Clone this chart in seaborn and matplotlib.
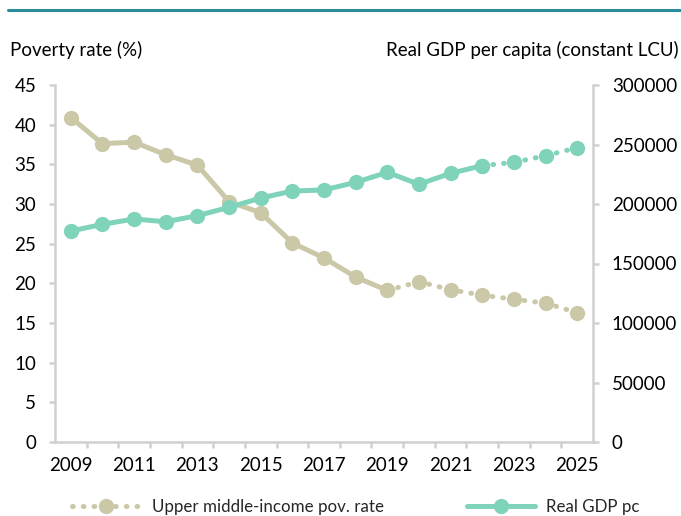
import pandas as pd
import matplotlib.pyplot as plt
import seaborn as sns
from matplotlib.lines import Line2D

sns.set_theme(style='white')
plt.rcParams['font.family'] = ['Lato', 'DejaVu Sans']

# -----------------------------
# Data
# -----------------------------
years = list(range(2009, 2026))
poverty = [40.9, 37.6, 37.8, 36.2, 34.9, 30.3, 28.9, 25.1, 23.2, 20.8,
           19.1, 20.2, 19.2, 18.5, 18.0, 17.5, 16.3]
gdp = [177300, 182900, 187400, 185100, 190200, 197200, 205000, 210900, 211800,
       218200, 226600, 216600, 225800, 232200, 235000, 240600, 247300]

df = pd.DataFrame({'year': years, 'poverty': poverty, 'gdp': gdp})
pov_last_actual = 2019
gdp_last_actual = 2022

tan = '#CBC8A8'
teal = '#7FD3BA'
spine_col = '#D0D0D0'
fs = 13.5

fig = plt.figure(figsize=(6.81, 5.16), dpi=100)
ax = fig.add_axes([55/681, 1-442/516, (593-55)/681, (442-85)/516])
ax2 = ax.twinx()

lw = 3.6
ms = 11
dots = (0, (0.15, 2.0))

# poverty: solid up to 2019, dotted afterwards
pov_a = df[df.year <= pov_last_actual]
pov_p = df[df.year >= pov_last_actual]
sns.lineplot(x='year', y='poverty', data=pov_a, ax=ax, color=tan, linewidth=lw,
             marker='o', markersize=ms, markeredgewidth=0)
sns.lineplot(x='year', y='poverty', data=pov_p, ax=ax, color=tan, linewidth=lw,
             linestyle=dots, dash_capstyle='round',
             marker='o', markersize=ms, markeredgewidth=0)

# GDP: solid up to 2022, dotted afterwards
gdp_a = df[df.year <= gdp_last_actual]
gdp_p = df[df.year >= gdp_last_actual]
sns.lineplot(x='year', y='gdp', data=gdp_a, ax=ax2, color=teal, linewidth=lw,
             marker='o', markersize=ms, markeredgewidth=0)
sns.lineplot(x='year', y='gdp', data=gdp_p, ax=ax2, color=teal, linewidth=lw,
             linestyle=dots, dash_capstyle='round',
             marker='o', markersize=ms, markeredgewidth=0)

# -----------------------------
# Axes styling
# -----------------------------
ax.set_xlim(2008.5, 2025.5)
ax.set_ylim(0, 45)
ax2.set_ylim(0, 300000)
ax.set_yticks(range(0, 50, 5))
ax2.set_yticks(range(0, 300001, 50000))
ax2.set_yticklabels([str(v) for v in range(0, 300001, 50000)])
ax.set_xticks(years[::2])
ax.set_xticks([y + 0.5 for y in years[:-1]], minor=True)
for a in (ax, ax2):
    a.set_xlabel('')
    a.set_ylabel('')
    a.grid(False)
    a.spines['top'].set_visible(False)
    for s in ['left', 'right', 'bottom']:
        a.spines[s].set_color(spine_col)
        a.spines[s].set_linewidth(1.8)

ax.spines['right'].set_visible(False)
ax2.spines['left'].set_visible(False)
ax2.spines['bottom'].set_visible(False)

ax.tick_params(axis='y', which='major', left=True, length=4.5, width=1.8,
               color=spine_col, pad=9, labelsize=fs, labelcolor='black')
ax2.tick_params(axis='y', which='major', right=True, length=4.5, width=1.8,
                color=spine_col, pad=9, labelsize=fs, labelcolor='black')
ax.tick_params(axis='x', which='major', bottom=False, length=0, pad=11,
               labelsize=fs, labelcolor='black')
ax.tick_params(axis='x', which='minor', bottom=True, length=4.5, width=1.8,
               color=spine_col)

# axis titles above the plot
fig.text(10/681, 1-50/516, 'Poverty rate (%)', ha='left', va='center',
         fontsize=fs, color='black')
fig.text(679/681, 1-50/516, 'Real GDP per capita (constant LCU)', ha='right',
         va='center', fontsize=fs, color='black')

# top rule
fig.add_artist(Line2D([8/681, 1], [1-10/516, 1-10/516], color='#2A8B98',
                      linewidth=2.2, transform=fig.transFigure))

# legend
h_pov = Line2D([], [], color=tan, linewidth=lw, linestyle=dots,
               dash_capstyle='round', marker='o', markersize=ms,
               markeredgewidth=0)
h_gdp = Line2D([], [], color=teal, linewidth=lw, marker='o', markersize=ms,
               markeredgewidth=0)
fig.legend([h_pov, h_gdp], ['Upper middle-income pov. rate', 'Real GDP pc'],
           loc='center', bbox_to_anchor=(356/681, 1-507/516), ncol=2,
           frameon=False, fontsize=12.2, handlelength=4.0, columnspacing=4.9,
           handletextpad=0.7, borderaxespad=0)

plt.savefig('out.png', dpi=100)
